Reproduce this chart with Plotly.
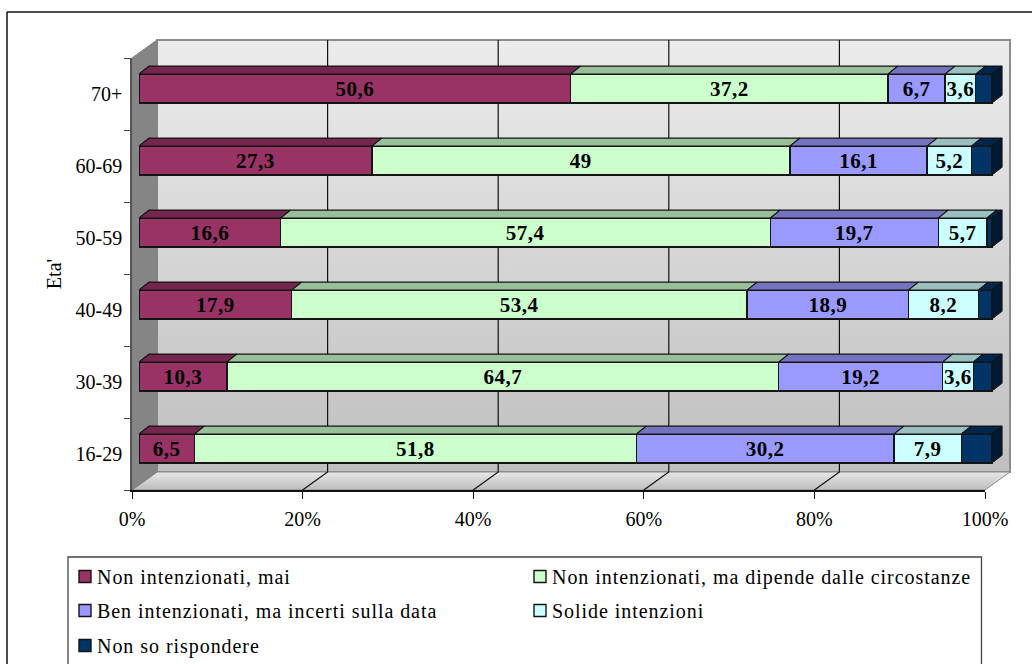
import plotly.graph_objects as go

# Survey data: share of respondents per age group
age_groups = ["16-29", "30-39", "40-49", "50-59", "60-69", "70+"]
non_intenzionati_mai = [6.5, 10.3, 17.9, 16.6, 27.3, 50.6]
dipende_circostanze = [51.8, 64.7, 53.4, 57.4, 49, 37.2]
incerti_data = [30.2, 19.2, 18.9, 19.7, 16.1, 6.7]
solide_intenzioni = [7.9, 3.6, 8.2, 5.7, 5.2, 3.6]
non_so = [3.6, 2.2, 1.6, 0.6, 2.4, 1.9]
x_ticks = [0, 20, 40, 60, 80, 100]
x_tick_labels = ["0%", "20%", "40%", "60%", "80%", "100%"]

series = [
    ("Non intenzionati, mai", non_intenzionati_mai, "#993366", "#73274d", True),
    ("Non intenzionati, ma dipende dalle circostanze", dipende_circostanze, "#ccffcc", "#99bf99", True),
    ("Ben intenzionati, ma incerti sulla data", incerti_data, "#9999ff", "#7373bf", True),
    ("Solide intenzioni", solide_intenzioni, "#ccffff", "#99bfbf", True),
    ("Non so rispondere", non_so, "#003366", "#00264d", False),
]
SIDE_COLOR = "#001a33"
FONT = "Liberation Serif"
W, H = 1032, 664

# Canvas geometry of the pseudo-3D box, in pixels
AX_L, AX_R, AX_T, AX_B = 132, 985, 58, 490
BAR_DX, BAR_DY = 7, 5.5
WALL_DX, WALL_DY = 25, 18
CAP_DX, CAP_DY = 10, 8
PX_PER_PCT = (AX_R - AX_L) / 100
PX_PER_CAT = (AX_B - AX_T) / 6
BAR_WIDTH = 0.4
BAR_AXIS_PAD = 3  # extra room on the bar axes so the end caps are not clipped


def xdom(a, b):
    return [a / W, b / W]


def ydom(top, bottom):
    return [1 - bottom / H, 1 - top / H]


fig = go.Figure()

# Wall offsets, expressed in axis units
wdx = WALL_DX / PX_PER_PCT
wdy = WALL_DY / PX_PER_CAT
y_lo, y_hi = -0.5, 5.5


def poly(xs, ys, **kw):
    fig.add_trace(go.Scatter(x=xs, y=ys, mode="lines", fill="toself", showlegend=False,
                             hoverinfo="skip", xaxis="x", yaxis="y", **kw))


# Back wall
poly([wdx, 100 + wdx, 100 + wdx, wdx, wdx], [y_lo + wdy, y_lo + wdy, y_hi + wdy, y_hi + wdy, y_lo + wdy],
     line=dict(color="#8c8c8c", width=2),
     fillgradient=dict(type="vertical", colorscale=[[0, "#bfbfbf"], [1, "#ececec"]]))
# Floor
poly([0, 100, 100 + wdx, wdx, 0], [y_lo, y_lo, y_lo + wdy, y_lo + wdy, y_lo],
     line=dict(color="#8c8c8c", width=1),
     fillgradient=dict(type="vertical", colorscale=[[0, "#bdbdbd"], [1, "#e8e8e8"]]))
# Left wall
poly([0, wdx, wdx, 0, 0], [y_lo, y_lo + wdy, y_hi + wdy, y_hi, y_lo],
     line=dict(color="#808080", width=1), fillcolor="#858585")

# Gridlines: up the back wall and across the floor
for t in x_ticks[1:-1]:
    fig.add_trace(go.Scatter(x=[t, t + wdx, t + wdx], y=[y_lo, y_lo + wdy, y_hi + wdy], mode="lines",
                             line=dict(color="#111111", width=1.2), showlegend=False,
                             hoverinfo="skip", xaxis="x", yaxis="y"))

# Keeps the visible axis pair alive; it has no marks of its own
fig.add_trace(go.Scatter(x=[0], y=[0], mode="none", showlegend=False, hoverinfo="skip",
                         xaxis="x2", yaxis="y2"))

# Stacked bars, front faces
positions = list(range(len(age_groups)))
for i, (name, values, color, top, labelled) in enumerate(series):
    fig.add_trace(go.Bar(
        y=positions, x=values, name=name, orientation="h", width=BAR_WIDTH,
        marker=dict(color=color, line=dict(color="#141414", width=1.4)),
        text=[f"{v:g}".replace(".", ",") for v in values] if labelled else None,
        textposition="inside" if labelled else "none", insidetextanchor="middle",
        constraintext="none", textangle=0,
        textfont=dict(family=FONT, size=21, color="#000000", weight="bold"),
        xaxis="x3", yaxis="y3", legend="legend" if i == 0 else f"legend{i + 1}",
        hoverinfo="skip",
    ))

# Top faces and end caps of the bars, derived from the cumulative values
cdx = CAP_DX / PX_PER_PCT
cdy = CAP_DY / PX_PER_CAT
half = BAR_WIDTH / 2
starts = [0.0] * len(age_groups)
for name, values, color, top, labelled in series:
    xs, ys = [], []
    for p, (s, v) in enumerate(zip(starts, values)):
        e = s + v
        xs += [s, e, e + cdx, s + cdx, s, None]
        ys += [p + half, p + half, p + half + cdy, p + half + cdy, p + half, None]
        starts[p] = e
    fig.add_trace(go.Scatter(x=xs, y=ys, mode="lines", fill="toself", fillcolor=top,
                             line=dict(color="#141414", width=1.2), showlegend=False,
                             hoverinfo="skip", xaxis="x3", yaxis="y3"))
xs, ys = [], []
for p, e in enumerate(starts):
    xs += [e, e + cdx, e + cdx, e, e, None]
    ys += [p - half, p - half + cdy, p + half + cdy, p + half, p - half, None]
fig.add_trace(go.Scatter(x=xs, y=ys, mode="lines", fill="toself", fillcolor=SIDE_COLOR,
                         line=dict(color="#141414", width=1.2), showlegend=False,
                         hoverinfo="skip", xaxis="x3", yaxis="y3"))

tick_font = dict(family=FONT, size=20, color="#000000")
legend_font = dict(family=FONT, size=20, color="#000000")
legend_slots = [(65, 557), (520, 557), (65, 591), (520, 591), (65, 626)]
legends = {}
for i, (lx, ly) in enumerate(legend_slots):
    key = "legend" if i == 0 else f"legend{i + 1}"
    legends[key] = dict(x=lx / W, y=1 - ly / H, xanchor="left", yanchor="top", itemwidth=30,
                        font=legend_font, bgcolor="rgba(0,0,0,0)", borderwidth=0,
                        itemclick=False, itemdoubleclick=False)

fig.update_layout(
    width=W, height=H, autosize=False, margin=dict(l=0, r=0, t=0, b=0, autoexpand=False),
    paper_bgcolor="#ffffff", plot_bgcolor="rgba(0,0,0,0)", barmode="stack", bargap=0.6,
    font=tick_font,
    # Full-canvas helper axes for the walls
    xaxis=dict(domain=[0, 1], range=[-AX_L / PX_PER_PCT, (W - AX_L) / PX_PER_PCT], visible=False),
    yaxis=dict(domain=[0, 1], range=[y_lo - (H - AX_B) / PX_PER_CAT, y_lo + AX_B / PX_PER_CAT], visible=False),
    # Visible value and category axes
    xaxis2=dict(domain=xdom(AX_L, AX_R), range=[0, 100], anchor="y2", tickvals=x_ticks,
                ticktext=x_tick_labels, ticks="outside", ticklen=7, tickwidth=1.2, tickcolor="#111111",
                showline=True, linecolor="#111111", linewidth=1.5, showgrid=False, zeroline=False,
                tickfont=tick_font, tickangle=0, ticklabelstandoff=3),
    yaxis2=dict(domain=ydom(AX_T, AX_B), range=[y_lo, y_hi], anchor="x2", tickvals=positions,
                ticktext=age_groups, ticks="", showline=True, linecolor="#555555", linewidth=1.5,
                showgrid=False, zeroline=False, tickfont=tick_font, ticklabelstandoff=4,
                minor=dict(tick0=-0.5, dtick=1, ticks="outside", ticklen=6, tickwidth=1.2,
                           tickcolor="#444444", showgrid=False),
                title=dict(text="Eta'", font=tick_font, standoff=9)),
    # Bar axes, shifted into the depth of the box
    xaxis3=dict(domain=xdom(AX_L + BAR_DX, AX_R + BAR_DX + BAR_AXIS_PAD * PX_PER_PCT),
                range=[0, 100 + BAR_AXIS_PAD], anchor="y3", visible=False),
    yaxis3=dict(domain=ydom(AX_T - BAR_DY, AX_B - BAR_DY), range=[y_lo, y_hi], anchor="x3", visible=False),
    shapes=[
        # Outer frame: top and left rules
        dict(type="line", xref="paper", yref="paper", x0=7 / W, x1=1, y0=1 - 12 / H, y1=1 - 12 / H,
             line=dict(color="#111111", width=1.5)),
        dict(type="line", xref="paper", yref="paper", x0=7 / W, x1=7 / W, y0=0, y1=1 - 12 / H,
             line=dict(color="#111111", width=1.5)),
        # Legend box
        dict(type="rect", xref="paper", yref="paper", x0=68 / W, x1=981.5 / W, y0=-0.02, y1=1 - 557 / H,
             line=dict(color="#444444", width=1.3), fillcolor="rgba(0,0,0,0)"),
    ],
    **legends,
)

# Typographic tweaks plotly has no attribute for: tracking and swatch gap in the legend
post = """
var style = document.createElement('style');
style.textContent =
  '.legendtext, .legend2text, .legend3text, .legend4text, .legend5text' +
  ' { letter-spacing: 0.95px; transform: translateX(-8px); }' +
  '.scrollbox { clip-path: none !important; }' +
  'text.bartext { letter-spacing: 0.5px; }';
document.head.appendChild(style);
"""
fig.write_html("out.html", post_script=post)
